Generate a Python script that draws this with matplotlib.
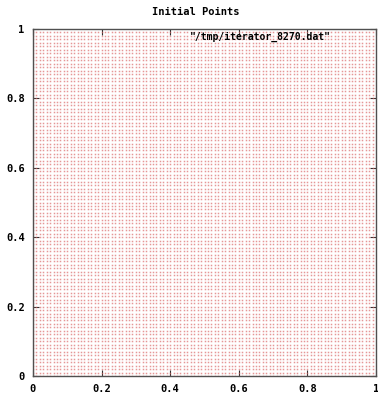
import numpy as np
import matplotlib
matplotlib.use("Agg")
import matplotlib.pyplot as plt

title = "Initial Points"
series_label = '"/tmp/iterator_8270.dat"'
grid_start = 0.0
grid_step = 0.01
grid_count = 100
xticks = [0, 0.2, 0.4, 0.6, 0.8, 1]
yticks = [0, 0.2, 0.4, 0.6, 0.8, 1]
tick_labels = ["0", "0.2", "0.4", "0.6", "0.8", "1"]

coords = grid_start + grid_step * np.arange(grid_count)
gx, gy = np.meshgrid(coords, coords)

W, H = 378, 394
fig = plt.figure(figsize=(W / 100, H / 100), dpi=100)
ax = fig.add_axes([33 / W, (H - 376) / H, 343 / W, 347 / H])
ax.plot(gx.ravel(), gy.ravel(), linestyle="none", marker="s", markersize=1.1,
        markeredgewidth=0, color="#d86060", alpha=0.65)
ax.set_xlim(0, 1)
ax.set_ylim(0, 1)

font = dict(family="DejaVu Sans Mono", weight="bold", size=7.5)
ax.set_xticks(xticks)
ax.set_yticks(yticks)
ax.set_xticklabels(tick_labels, **font)
ax.set_yticklabels(tick_labels, **font)
ax.tick_params(direction="in", length=4, width=0.8, color="#303030",
               top=True, right=True, pad=6)
for s in ax.spines.values():
    s.set_color("#505050")
    s.set_linewidth(1)

fig.text(196 / W, 1 - 12 / H, title, ha="center", va="center", **font)
fig.text(331 / W, 1 - 37 / H, series_label, ha="right", va="center",
         family="DejaVu Sans Mono", weight="bold", size=7)

fig.savefig("out.png", dpi=100)
